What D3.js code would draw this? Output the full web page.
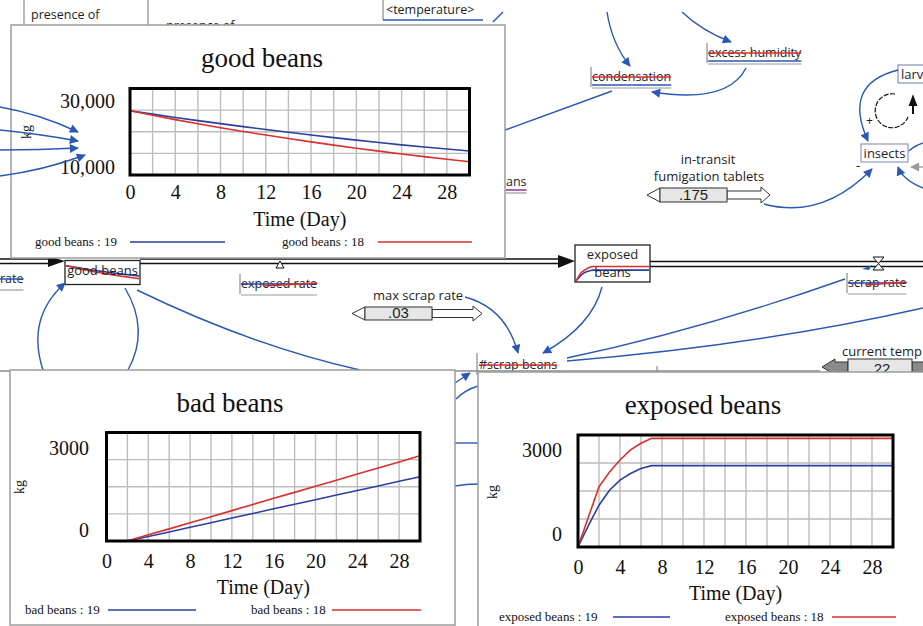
<!DOCTYPE html>
<html><head><meta charset="utf-8">
<script src="https://cdn.jsdelivr.net/npm/d3@7"></script>
<style>
body{margin:0;background:#fff;}
svg{display:block;}
</style></head><body><div id="chart"></div>
<script>
// values (runs 19 = blue, 18 = red)
const goodDays  = [0,2,4,6,8,10,12,14,16,18,20,22,24,26,28,30];
const goodRun19 = [24850,24070,23310,22580,21870,21180,20520,19870,19250,18640,18060,17500,16970,16480,16000,15540];
const goodRun18 = [24850,23830,22810,21860,20940,20070,19230,18420,17650,16910,16200,15520,14870,14250,13650,13080];
const badDays   = [0,2,4,6,8,10,12,14,16,18,20,22,24,26,28,30];
const badRun19  = [0,0,125,250,380,505,635,760,890,1015,1140,1270,1395,1520,1650,1775];
const badRun18  = [0,0,170,335,505,670,840,1010,1180,1345,1515,1680,1850,2020,2185,2355];
const expDays   = [0,1,2,3,4,5,6,7,30];
const expRun19  = [0,580,1120,1520,1790,1970,2100,2180,2180];
const expRun18  = [0,810,1610,2010,2330,2600,2780,2910,2910];
const dayTicks  = [0,4,8,12,16,20,24,28];
const goodYLabels = ["10,000","30,000"];
const badYLabels  = ["0","3000"];
const expYLabels  = ["0","3000"];

const W = 923, H = 626;
const BLUE = "#2c3fa0", RED = "#d8302c", LINK = "#2a58b4", INK = "#1e1e1e";
const svg = d3.select("#chart").append("svg").attr("width",W).attr("height",H);
const defs = svg.append("defs");
function marker(id,col){
  defs.append("marker").attr("id",id).attr("viewBox","0 0 10 10").attr("refX",9).attr("refY",5)
    .attr("markerWidth",12).attr("markerHeight",9).attr("markerUnits","userSpaceOnUse").attr("orient","auto")
    .append("path").attr("d","M0,0L10,5L0,10z").attr("fill",col);
}
marker("ah",LINK); marker("ahg","#9a9a9a");

const diag = svg.append("g").attr("font-family","'Open Sans',sans-serif").attr("font-size",12.5).attr("fill",INK);
function link(d,head,col){
  diag.append("path").attr("d",d).attr("fill","none").attr("stroke",col||LINK).attr("stroke-width",1.4)
    .attr("marker-end",head?`url(#${head})`:null);
}
function line(x1,y1,x2,y2,col,w){
  diag.append("line").attr("x1",x1).attr("y1",y1).attr("x2",x2).attr("y2",y2)
    .attr("stroke",col||"#8a8a8a").attr("stroke-width",w||1.2);
}
function txt(x,y,s,anchor,size){
  return diag.append("text").attr("x",x).attr("y",y).attr("text-anchor",anchor||"start")
    .attr("font-size",size||12.5).text(s);
}
// variable label with strike + underline, like the diagram's graphed variables
function varLabel(x,y,s,opts){
  const t = txt(x,y,s);
  const w = t.node().getComputedTextLength();
  if(opts.edge) line(x-1,y-14,x-1,y+6,"#8a8a8a");
  if(opts.strike) line(x,y-4,x+w,y-4,opts.strike,1.5);
  if(opts.strike2) line(x+w*0.3,y-2,x+w,y-5,opts.strike2,1.5);
  if(opts.under) line(x,y+4,x+w,y+4,opts.under,1.5);
  line(x,y+7,x+w,y+7,"#9a9a9a",1.2);
}
function slider(x0,x1,y0,y1,val,left,right){
  const g = diag.append("g").attr("stroke","#333").attr("stroke-width",1);
  const m = (y0+y1)/2;
  if(left) g.append("polygon").attr("points",`${x0},${y0} ${x0-13},${m} ${x0},${y1}`).attr("fill","#fff");
  if(right) g.append("polygon")
    .attr("points",`${x1},${m-4} ${right-9},${m-4} ${right-9},${y0-1} ${right},${m} ${right-9},${y1+1} ${right-9},${m+4} ${x1},${m+4}`)
    .attr("fill","#fff");
  g.append("rect").attr("x",x0).attr("y",y0).attr("width",x1-x0).attr("height",y1-y0).attr("fill","#e6e6e6");
  txt((x0+x1)/2,y1-2,val,"middle",15).attr("font-family","'Liberation Sans Narrow','Liberation Sans',sans-serif");
}

// ---- background stock & flow diagram ----
line(24,0,24,25); txt(31,19,"presence of");
line(148,0,148,25); txt(166,30,"presence of");
line(383,0,383,20); txt(386,14,"<temperature>"); line(383,20,483,20,LINK,1.5);
link("M493,22L503,12");
link("M607,12Q612,44 630,66","ah");
varLabel(592,81,"condensation",{edge:1,strike:RED,under:LINK});
link("M682,12Q702,31 731,42","ah");
varLabel(708,57,"excess humidity",{edge:1,strike:RED,under:LINK});
link("M746,68Q728,104 652,92","ah");
link("M612,91Q560,110 500,132");
varLabel(506,186,"ans",{under:"#8a3a8a"});
txt(708,164,"in-transit","middle",13); txt(709,181,"fumigation tablets","middle",13);
slider(660,727,188,202,".175",true,770);
link("M764,204Q822,220 872,169","ah");
// insects loop
diag.append("rect").attr("x",898).attr("y",65).attr("width",40).attr("height",18).attr("fill","#fff").attr("stroke","#6a7aa8");
txt(901,79,"larv",null,13);
diag.append("path").attr("d","M895,94A17,17 0 1 0 908,117").attr("fill","none").attr("stroke","#111").attr("stroke-width",1.2).attr("stroke-dasharray","5,1.5");
diag.append("path").attr("d","M910,105L916,105L913,97z M913,105L913,114").attr("fill","#111").attr("stroke","#111").attr("stroke-width",2);
txt(866,125,"+",null,12);
link("M898,70Q842,84 868,141","ah");
diag.append("rect").attr("x",861).attr("y",144).attr("width",47).attr("height",18).attr("fill","#fff").attr("stroke","#7b86ac");
txt(884.5,158,"insects","middle",13);
txt(856,170,"-",null,13);
link("M923,143Q914,146 909,151");
link("M923,167L911,167","ahg","#a0a0a0");
link("M923,188Q903,180 898,167","ah");
// flow pipes
[259,263.5].forEach(yy=>{ line(0,yy,52,yy,"#111",1.4); line(140,yy,562,yy,"#111",1.4); });
[261.5,266.5].forEach(yy=> line(650,yy,923,yy,"#111",1.4));
diag.append("polygon").attr("points","48,256 65,261 48,267").attr("fill","#111");
diag.append("polygon").attr("points","558,255 575,261 558,268").attr("fill","#111");
diag.append("polygon").attr("points","276,268 284,268 280,261").attr("fill","#fff").attr("stroke","#111");
diag.append("polygon").attr("points","873,257 884,257 873,270 884,270").attr("fill","#fff").attr("stroke","#111");
diag.append("polygon").attr("points","862,269 872,265 869,270").attr("fill",LINK);
// stocks with small in-box run graphs drawn from the data
function stockBox(x,y,w,h,label,days,runs,yDom,gy){
  diag.append("rect").attr("x",x).attr("y",y).attr("width",w).attr("height",h).attr("fill","#fff").attr("stroke","#222").attr("stroke-width",1.3);
  const sx = d3.scaleLinear().domain([0,30]).range([x+1,x+w-1]);
  const sy = d3.scaleLinear().domain(yDom).range(gy);
  runs.forEach((r,i)=>{
    diag.append("path").datum(r).attr("fill","none").attr("stroke",i?RED:BLUE).attr("stroke-width",1.6)
      .attr("d",d3.line().x((d,j)=>sx(days[j])).y(d=>sy(d)));
  });
  label.forEach((s,i)=> txt(x+w/2,y+14+i*18,s,"middle",13));
}
stockBox(65,260.5,75,24,["good beans"],goodDays,[goodRun19,goodRun18],[10000,30000],[282,260]);
stockBox(575,245,75,37,["exposed","beans"],expDays,[expRun19,expRun18],[0,3000],[281,266]);
varLabel(0,283,"rate",{strike:LINK});
varLabel(241,288,"exposed rate",{edge:1,strike:BLUE,strike2:RED});
varLabel(848,287,"scrap rate",{edge:1,strike:BLUE,strike2:RED});
txt(418,300,"max scrap rate","middle",13);
slider(365,432,307,320,".03",true,482);
link("M465,297Q506,308 518,353","ah");
link("M602,287Q592,326 543,353","ah");
varLabel(479,369,"#scrap beans",{strike:RED});
line(477,353,477,375,"#8a8a8a");
link("M567,358Q700,330 845,279");
link("M567,361Q760,345 923,308");
txt(842,356,"current temp",null,13);
diag.append("polygon").attr("points","848,362 835,362 835,359 822,367 835,375 835,372 848,372").attr("fill","#8a8a8a").attr("stroke","#333");
diag.append("rect").attr("x",912).attr("y",362).attr("width",12).attr("height",10).attr("fill","#8a8a8a").attr("stroke","#333");
slider(848,912,359,376,".22",false,null);
line(0,371,820,371,"#8a8a8a",1.3); line(657,366,657,371,"#8a8a8a");
link("M43,370Q26,318 65,283","ah");
link("M125,288Q150,330 128,370");
link("M137,290Q250,345 360,370");
link("M455,383L470,373","ah");
link("M456,399Q465,390 478,386");
link("M455,443L478,443");
link("M455,486Q466,484 478,484");

// ---- Vensim graph windows ----
function graphWindow(c){
  const g = svg.append("g").attr("font-family","'Liberation Serif','Times New Roman',serif").attr("fill","#111");
  g.append("rect").attr("x",c.win[0]).attr("y",c.win[1]).attr("width",c.win[2]-c.win[0]).attr("height",c.win[3]-c.win[1])
    .attr("fill","#fff").attr("stroke","#9c9c9c").attr("stroke-width",1.5);
  const x = d3.scaleLinear().domain([0,30]).range([c.plot[0],c.plot[2]]);
  const y = d3.scaleLinear().domain(c.yDom).range([c.plot[3],c.plot[1]]);
  g.append("text").attr("x",c.titleX).attr("y",c.titleY).attr("text-anchor","middle").attr("font-size",27).text(c.title);
  g.append("g").selectAll("line").data(d3.range(2,30,2)).join("line")
    .attr("x1",d=>x(d)).attr("x2",d=>x(d)).attr("y1",c.plot[1]).attr("y2",c.plot[3])
    .attr("stroke","#bdbdbd").attr("stroke-width",1.4);
  const step = (c.yDom[1]-c.yDom[0])/4;
  g.append("g").selectAll("line").data([1,2,3].map(i=>c.yDom[0]+i*step)).join("line")
    .attr("x1",c.plot[0]).attr("x2",c.plot[2]).attr("y1",d=>y(d)).attr("y2",d=>y(d))
    .attr("stroke","#bdbdbd").attr("stroke-width",1.4);
  [c.run19,c.run18].forEach((r,i)=>{
    g.append("path").datum(r).attr("fill","none").attr("stroke",i?RED:BLUE).attr("stroke-width",1.6)
      .attr("d",d3.line().x((d,j)=>x(c.days[j])).y(d=>y(d)));
  });
  g.append("rect").attr("x",c.plot[0]).attr("y",c.plot[1]).attr("width",c.plot[2]-c.plot[0]).attr("height",c.plot[3]-c.plot[1])
    .attr("fill","none").attr("stroke","#000").attr("stroke-width",3);
  const ax = g.append("g").attr("transform",`translate(0,${c.plot[3]})`)
    .call(d3.axisBottom(x).tickValues(dayTicks).tickSize(0).tickPadding(c.tickPad));
  ax.select(".domain").remove();
  ax.selectAll("text").attr("font-size",20).attr("font-family","'Liberation Serif',serif").attr("fill","#111");
  g.append("text").attr("x",c.yLabX).attr("y",y(c.yDom[1])+c.topOff).attr("text-anchor","end").attr("font-size",20).text(c.yLabels[1]);
  g.append("text").attr("x",c.yLabX).attr("y",y(c.yDom[0])-c.botOff).attr("text-anchor","end").attr("font-size",20).text(c.yLabels[0]);
  g.append("text").attr("transform",`translate(${c.kg[0]},${c.kg[1]}) rotate(-90)`).attr("text-anchor","middle").attr("font-size",14).text("kg");
  g.append("text").attr("x",(c.plot[0]+c.plot[2])/2).attr("y",c.timeY).attr("text-anchor","middle").attr("font-size",20).text("Time (Day)");
  c.legend.forEach((L,i)=>{
    g.append("text").attr("x",L[0]).attr("y",c.legY).attr("font-size",13).text(`${c.title} : ${i?18:19}`);
    g.append("line").attr("x1",L[1]).attr("x2",L[2]).attr("y1",c.legY-4).attr("y2",c.legY-4).attr("stroke",i?RED:BLUE).attr("stroke-width",1.6);
  });
}
graphWindow({title:"good beans",win:[11,25,505,258],plot:[130,88.5,469.5,175],yDom:[10000,30000],yLabels:goodYLabels,
  days:goodDays,run19:goodRun19,run18:goodRun18,titleX:262,titleY:67,yLabX:115,topOff:19,botOff:1,tickPad:10,
  kg:[31,132],timeY:226,legY:246,legend:[[35,130,225],[282,378,472]]});
graphWindow({title:"bad beans",win:[10,370,455,625],plot:[106.5,432.5,420,541],yDom:[0,3000],yLabels:badYLabels,
  days:badDays,run19:badRun19,run18:badRun18,titleX:230,titleY:412,yLabX:89,topOff:22,botOff:4,tickPad:13,
  kg:[24,487],timeY:594,legY:614,legend:[[25,108,196],[251,332,421]]});
graphWindow({title:"exposed beans",win:[478,372,935,640],plot:[578,435,893,547],yDom:[0,3000],yLabels:expYLabels,
  days:expDays,run19:expRun19,run18:expRun18,titleX:703,titleY:414,yLabX:562,topOff:22,botOff:6,tickPad:13,
  kg:[497,492],timeY:600,legY:621,legend:[[499,613,670],[725,832,896]]});

// links drawn over the good beans window at its left edge
const over = svg.append("g");
[["M0,107Q40,114 78,132"],["M0,130Q40,134 78,141"],["M0,150Q40,150 78,148"],["M0,176Q45,170 85,155"]].forEach(p=>{
  over.append("path").attr("d",p[0]).attr("fill","none").attr("stroke",LINK).attr("stroke-width",1.4).attr("marker-end","url(#ah)");
});
</script></body></html>
